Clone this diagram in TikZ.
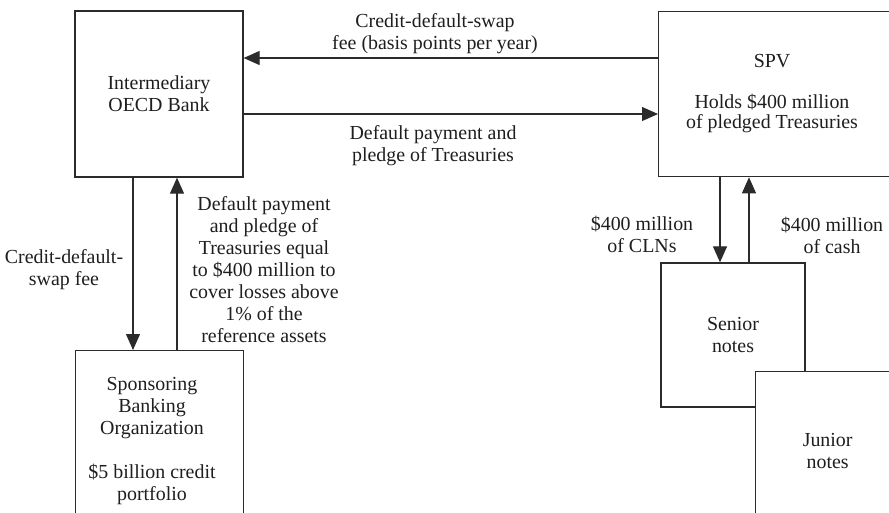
\documentclass[tikz,border=0pt]{standalone}
\usepackage{fontspec}
\setmainfont{Liberation Serif}
\usetikzlibrary{arrows.meta,calc}
\definecolor{lc}{HTML}{2B2B2B}
\definecolor{tc}{HTML}{1E1E1E}
\begin{document}
\begin{tikzpicture}[x=1pt,y=-1pt,
  box/.style={draw=lc, line width=1.3pt, fill=white, inner sep=0pt, align=center, text=tc},
  lbl/.style={inner sep=0pt, align=center, text=tc},
  arr/.style={draw=lc, line width=1.1pt, -{Triangle[length=16pt,width=14pt]}},
  font=\fontsize{19.9}{22}\selectfont]
\useasboundingbox (0,0) rectangle (889,512);
\clip (0,0) rectangle (889,512);

% boxes
\node[box, minimum width=168pt, minimum height=166pt] (oecd) at (159,94) {Intermediary\\OECD Bank};
\node[box, minimum width=260pt, minimum height=165pt, anchor=north west] (spv) at (658,11) {};
\node[lbl, font=\fontsize{19.9}{19.5}\selectfont] (spvtext) at (772,93.5) {SPV\\[22pt]Holds \$400 million\\of pledged Treasuries};
\node[box, minimum width=168pt, minimum height=200pt, anchor=north west] (sbo) at (75,350) {};
\node[lbl] (sbotext) at (152,441) {Sponsoring\\Banking\\Organization\\[22pt]\$5 billion credit\\portfolio};
\node[box, minimum width=144pt, minimum height=144pt] (senior) at (733,335) {Senior\\notes};
\node[box, minimum width=144pt, minimum height=159pt, anchor=north west] (junior) at (755,371) {Junior\\notes};

% helper coordinates
\coordinate (yTop) at (0,58);
\coordinate (yBot) at (0,114);
\coordinate (xA) at (133,0);
\coordinate (xB) at (177,0);
\coordinate (xC) at (720,0);
\coordinate (xD) at (749,0);

% connectors
\draw[arr] (spv.west |- yTop) -- (oecd.east |- yTop);
\draw[arr] (oecd.east |- yBot) -- (spv.west |- yBot);
\draw[arr] (oecd.south -| xA) -- (sbo.north -| xA);
\draw[arr] (sbo.north -| xB) -- (oecd.south -| xB);
\draw[arr] (spv.south -| xC) -- (senior.north -| xC);
\draw[arr] (senior.north -| xD) -- (spv.south -| xD);

% labels
\node[lbl] (l1) at (435,34) {Credit-default-swap\\fee (basis points per year)};
\node[lbl] (l2) at (433,146) {Default payment and\\pledge of Treasuries};
\node[lbl] (l3) at (64,270) {Credit-default-\\swap fee};
\node[lbl] (l4) at (264,270) {Default payment\\and pledge of\\Treasuries equal\\to \$400 million to\\cover losses above\\1\% of the\\reference assets};
\node[lbl] (l5) at (642,234) {\$400 million\\of CLNs};
\node[lbl] (l6) at (832,235) {\$400 million\\of cash};
\end{tikzpicture}
\end{document}
